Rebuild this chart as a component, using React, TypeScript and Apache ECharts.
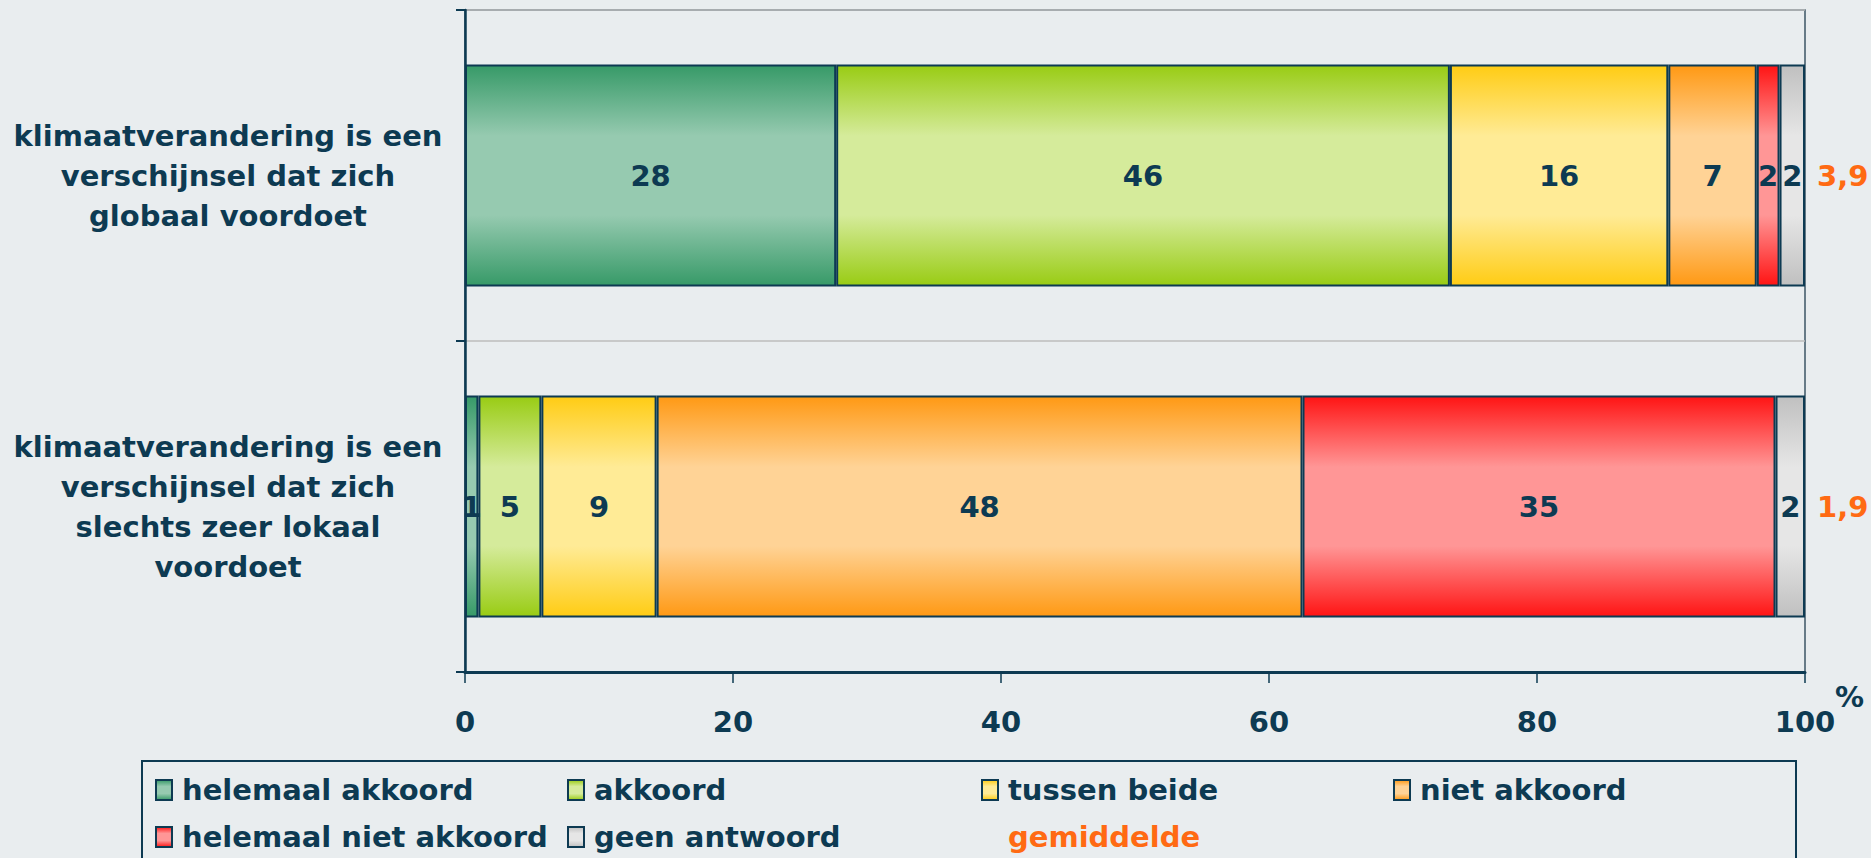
import React, { useEffect, useRef } from "react";
import * as echarts from "echarts";

// ---- data ----
const categories = [
  "klimaatverandering is een\nverschijnsel dat zich\nglobaal voordoet",
  "klimaatverandering is een\nverschijnsel dat zich\nslechts zeer lokaal\nvoordoet",
];
const seriesNames = [
  "helemaal akkoord",
  "akkoord",
  "tussen beide",
  "niet akkoord",
  "helemaal niet akkoord",
  "geen antwoord",
];
const helemaalAkkoord = [27.7, 1.0];
const akkoord = [45.8, 4.7];
const tussenBeide = [16.3, 8.6];
const nietAkkoord = [6.6, 48.2];
const helemaalNietAkkoord = [1.7, 35.3];
const geenAntwoord = [1.9, 2.2];
const gemiddelde = [3.9, 1.9];
const averageName = "gemiddelde";

// ---- style ----
const NAVY = "#0d3a52";
const ORANGE = "#ff6a13";
const FONT = "DejaVu Sans";
const FS = 29;
const palette = [
  ["#379a68", "#96cab0"],
  ["#99cc14", "#d5eb9b"],
  ["#ffcc14", "#ffeb96"],
  ["#ff9914", "#ffd396"],
  ["#ff1414", "#ff9696"],
  ["#c0c0c0", "#e6e6e6"],
];

const grad = (dark: string, light: string) =>
  new echarts.graphic.LinearGradient(0, 0, 0, 1, [
    { offset: 0, color: dark },
    { offset: 0.32, color: light },
    { offset: 0.68, color: light },
    { offset: 1, color: dark },
  ]);

export default function App() {
  const ref = useRef<HTMLDivElement>(null);
  useEffect(() => {
    if (!ref.current) return;
    const chart = echarts.init(ref.current, undefined, { renderer: "svg" });
    const values = [
      helemaalAkkoord,
      akkoord,
      tussenBeide,
      nietAkkoord,
      helemaalNietAkkoord,
      geenAntwoord,
    ];
    const barSeries: any[] = values.map((data, i) => ({
      name: seriesNames[i],
      type: "bar",
      stack: "total",
      barCategoryGap: "33%",
      data,
      itemStyle: {
        color: grad(palette[i][0], palette[i][1]),
        borderColor: NAVY,
        borderWidth: 2,
      },
      label: {
        show: true,
        position: "inside",
        color: NAVY,
        fontFamily: FONT,
        fontWeight: "bold",
        fontSize: FS,
        formatter: (p: any) => String(Math.round(p.value)),
      },
    }));
    barSeries.push({
      name: averageName,
      type: "bar",
      stack: "total",
      data: gemiddelde.map(() => 0),
      itemStyle: { color: "transparent", borderWidth: 0 },
      label: {
        show: true,
        position: "right",
        distance: 12,
        color: ORANGE,
        fontFamily: FONT,
        fontWeight: "bold",
        fontSize: FS,
        formatter: (p: any) => String(gemiddelde[p.dataIndex]).replace(".", ","),
      },
    });

    const legendText = {
      color: NAVY,
      fontFamily: FONT,
      fontWeight: "bold",
      fontSize: FS,
      lineHeight: 30,
      padding: [0, 0, 0, 5],
    };
    const mkLegend = (left: number, names: any[]) => ({
      orient: "vertical",
      left,
      top: 775,
      padding: 0,
      itemGap: 17,
      itemWidth: 16,
      itemHeight: 20,
      icon: "rect",
      selectedMode: false,
      textStyle: legendText,
      data: names,
    });

    chart.setOption({
      animation: false,
      backgroundColor: "#e9edef",
      grid: {
        left: 465,
        right: 66,
        top: 10,
        bottom: 186,
        show: true,
        borderColor: "#3d5566",
        borderWidth: 1.5,
        backgroundColor: "transparent",
      },
      legend: [
        mkLegend(155, [seriesNames[0], seriesNames[4]]),
        mkLegend(567, [seriesNames[1], seriesNames[5]]),
        mkLegend(981, [
          seriesNames[2],
          { name: averageName, itemStyle: { opacity: 0 }, textStyle: { color: ORANGE } },
        ]),
        mkLegend(1393, [seriesNames[3]]),
      ],
      xAxis: {
        type: "value",
        min: 0,
        max: 100,
        interval: 20,
        name: "%",
        nameLocation: "end",
        nameGap: 59,
        nameMoveOverlap: false,
        nameTextStyle: {
          color: NAVY,
          fontFamily: FONT,
          fontWeight: "bold",
          fontSize: FS,
          verticalAlign: "top",
          align: "right",
          padding: [10, 0, 0, 0],
        },
        axisLine: { show: true, lineStyle: { color: NAVY, width: 3 } },
        axisTick: { show: true, length: 11, lineStyle: { color: NAVY, width: 1.5 } },
        splitLine: { show: false },
        axisLabel: {
          color: NAVY,
          fontFamily: FONT,
          fontWeight: "bold",
          fontSize: FS,
          margin: 35,
        },
      },
      yAxis: {
        type: "category",
        inverse: true,
        data: categories,
        axisLine: { show: true, lineStyle: { color: NAVY, width: 2.5 } },
        axisTick: { show: true, length: 9, lineStyle: { color: NAVY, width: 2 } },
        splitLine: { show: true, lineStyle: { color: "#bcbcbc", width: 1.5 } },
        axisLabel: {
          color: NAVY,
          fontFamily: FONT,
          fontWeight: "bold",
          fontSize: FS,
          lineHeight: 40,
          align: "center",
          margin: 237,
        },
      },
      graphic: [
        {
          type: "rect",
          silent: true,
          z: -1,
          shape: { x: 142, y: 761, width: 1654, height: 200 },
          style: { fill: "none", stroke: NAVY, lineWidth: 2 },
        },
      ],
      series: barSeries,
    });
    return () => chart.dispose();
  }, []);
  return (
    <div
      ref={ref}
      style={{ position: "fixed", left: 0, top: 0, width: 1871, height: 858 }}
    />
  );
}
